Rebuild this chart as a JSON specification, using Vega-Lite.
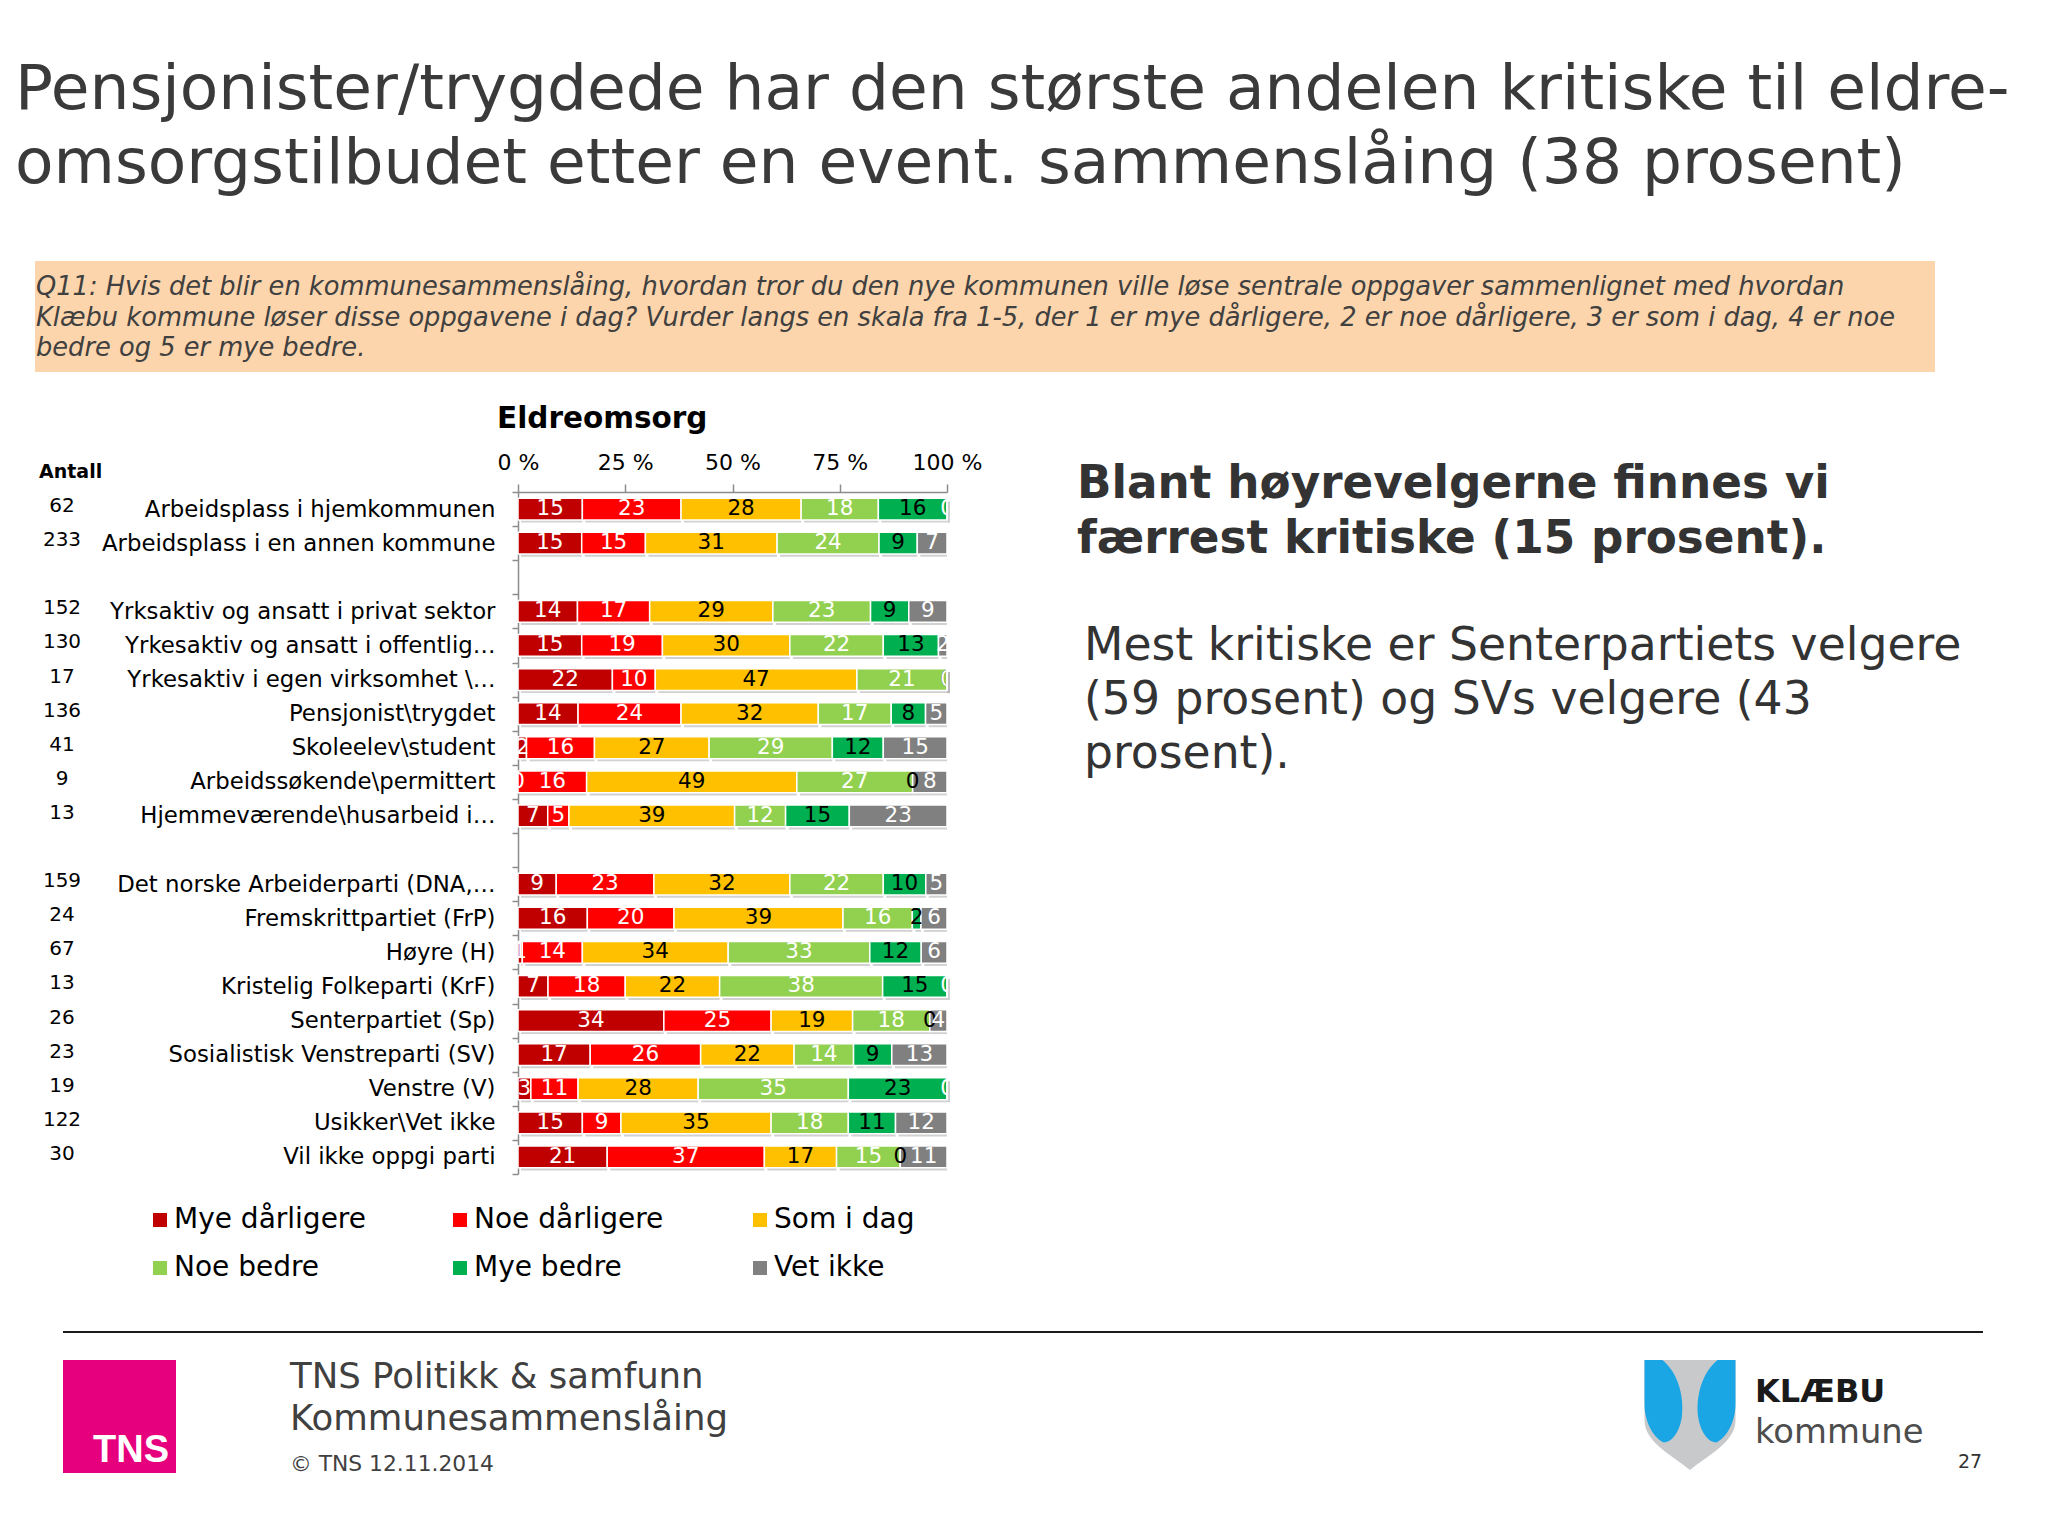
{
  "$schema": "https://vega.github.io/schema/vega-lite/v6.json",
  "width": 429,
  "height": 682,
  "autosize": {"type": "none"},
  "padding": {"left": 518, "top": 492, "right": 1101, "bottom": 362},
  "background": "white",
  "config": {"view": {"stroke": null}, "font": "DejaVu Sans"},
  "data": {"values": [
    {"g":"Arbeidsplass i hjemkommunen","n":62,"cat":"Mye dårligere","v":15},
    {"g":"Arbeidsplass i hjemkommunen","n":62,"cat":"Noe dårligere","v":23},
    {"g":"Arbeidsplass i hjemkommunen","n":62,"cat":"Som i dag","v":28},
    {"g":"Arbeidsplass i hjemkommunen","n":62,"cat":"Noe bedre","v":18},
    {"g":"Arbeidsplass i hjemkommunen","n":62,"cat":"Mye bedre","v":16},
    {"g":"Arbeidsplass i hjemkommunen","n":62,"cat":"Vet ikke","v":0},
    {"g":"Arbeidsplass i en annen kommune","n":233,"cat":"Mye dårligere","v":15},
    {"g":"Arbeidsplass i en annen kommune","n":233,"cat":"Noe dårligere","v":15},
    {"g":"Arbeidsplass i en annen kommune","n":233,"cat":"Som i dag","v":31},
    {"g":"Arbeidsplass i en annen kommune","n":233,"cat":"Noe bedre","v":24},
    {"g":"Arbeidsplass i en annen kommune","n":233,"cat":"Mye bedre","v":9},
    {"g":"Arbeidsplass i en annen kommune","n":233,"cat":"Vet ikke","v":7},
    {"g":"Yrksaktiv og ansatt i privat sektor","n":152,"cat":"Mye dårligere","v":14},
    {"g":"Yrksaktiv og ansatt i privat sektor","n":152,"cat":"Noe dårligere","v":17},
    {"g":"Yrksaktiv og ansatt i privat sektor","n":152,"cat":"Som i dag","v":29},
    {"g":"Yrksaktiv og ansatt i privat sektor","n":152,"cat":"Noe bedre","v":23},
    {"g":"Yrksaktiv og ansatt i privat sektor","n":152,"cat":"Mye bedre","v":9},
    {"g":"Yrksaktiv og ansatt i privat sektor","n":152,"cat":"Vet ikke","v":9},
    {"g":"Yrkesaktiv og ansatt i offentlig…","n":130,"cat":"Mye dårligere","v":15},
    {"g":"Yrkesaktiv og ansatt i offentlig…","n":130,"cat":"Noe dårligere","v":19},
    {"g":"Yrkesaktiv og ansatt i offentlig…","n":130,"cat":"Som i dag","v":30},
    {"g":"Yrkesaktiv og ansatt i offentlig…","n":130,"cat":"Noe bedre","v":22},
    {"g":"Yrkesaktiv og ansatt i offentlig…","n":130,"cat":"Mye bedre","v":13},
    {"g":"Yrkesaktiv og ansatt i offentlig…","n":130,"cat":"Vet ikke","v":2},
    {"g":"Yrkesaktiv i egen virksomhet \\…","n":17,"cat":"Mye dårligere","v":22},
    {"g":"Yrkesaktiv i egen virksomhet \\…","n":17,"cat":"Noe dårligere","v":10},
    {"g":"Yrkesaktiv i egen virksomhet \\…","n":17,"cat":"Som i dag","v":47},
    {"g":"Yrkesaktiv i egen virksomhet \\…","n":17,"cat":"Noe bedre","v":21},
    {"g":"Yrkesaktiv i egen virksomhet \\…","n":17,"cat":"Mye bedre","v":0},
    {"g":"Yrkesaktiv i egen virksomhet \\…","n":17,"cat":"Vet ikke","v":0},
    {"g":"Pensjonist\\trygdet","n":136,"cat":"Mye dårligere","v":14},
    {"g":"Pensjonist\\trygdet","n":136,"cat":"Noe dårligere","v":24},
    {"g":"Pensjonist\\trygdet","n":136,"cat":"Som i dag","v":32},
    {"g":"Pensjonist\\trygdet","n":136,"cat":"Noe bedre","v":17},
    {"g":"Pensjonist\\trygdet","n":136,"cat":"Mye bedre","v":8},
    {"g":"Pensjonist\\trygdet","n":136,"cat":"Vet ikke","v":5},
    {"g":"Skoleelev\\student","n":41,"cat":"Mye dårligere","v":2},
    {"g":"Skoleelev\\student","n":41,"cat":"Noe dårligere","v":16},
    {"g":"Skoleelev\\student","n":41,"cat":"Som i dag","v":27},
    {"g":"Skoleelev\\student","n":41,"cat":"Noe bedre","v":29},
    {"g":"Skoleelev\\student","n":41,"cat":"Mye bedre","v":12},
    {"g":"Skoleelev\\student","n":41,"cat":"Vet ikke","v":15},
    {"g":"Arbeidssøkende\\permittert","n":9,"cat":"Mye dårligere","v":0},
    {"g":"Arbeidssøkende\\permittert","n":9,"cat":"Noe dårligere","v":16},
    {"g":"Arbeidssøkende\\permittert","n":9,"cat":"Som i dag","v":49},
    {"g":"Arbeidssøkende\\permittert","n":9,"cat":"Noe bedre","v":27},
    {"g":"Arbeidssøkende\\permittert","n":9,"cat":"Mye bedre","v":0},
    {"g":"Arbeidssøkende\\permittert","n":9,"cat":"Vet ikke","v":8},
    {"g":"Hjemmeværende\\husarbeid i…","n":13,"cat":"Mye dårligere","v":7},
    {"g":"Hjemmeværende\\husarbeid i…","n":13,"cat":"Noe dårligere","v":5},
    {"g":"Hjemmeværende\\husarbeid i…","n":13,"cat":"Som i dag","v":39},
    {"g":"Hjemmeværende\\husarbeid i…","n":13,"cat":"Noe bedre","v":12},
    {"g":"Hjemmeværende\\husarbeid i…","n":13,"cat":"Mye bedre","v":15},
    {"g":"Hjemmeværende\\husarbeid i…","n":13,"cat":"Vet ikke","v":23},
    {"g":"Det norske Arbeiderparti (DNA,…","n":159,"cat":"Mye dårligere","v":9},
    {"g":"Det norske Arbeiderparti (DNA,…","n":159,"cat":"Noe dårligere","v":23},
    {"g":"Det norske Arbeiderparti (DNA,…","n":159,"cat":"Som i dag","v":32},
    {"g":"Det norske Arbeiderparti (DNA,…","n":159,"cat":"Noe bedre","v":22},
    {"g":"Det norske Arbeiderparti (DNA,…","n":159,"cat":"Mye bedre","v":10},
    {"g":"Det norske Arbeiderparti (DNA,…","n":159,"cat":"Vet ikke","v":5},
    {"g":"Fremskrittpartiet (FrP)","n":24,"cat":"Mye dårligere","v":16},
    {"g":"Fremskrittpartiet (FrP)","n":24,"cat":"Noe dårligere","v":20},
    {"g":"Fremskrittpartiet (FrP)","n":24,"cat":"Som i dag","v":39},
    {"g":"Fremskrittpartiet (FrP)","n":24,"cat":"Noe bedre","v":16},
    {"g":"Fremskrittpartiet (FrP)","n":24,"cat":"Mye bedre","v":2},
    {"g":"Fremskrittpartiet (FrP)","n":24,"cat":"Vet ikke","v":6},
    {"g":"Høyre (H)","n":67,"cat":"Mye dårligere","v":1},
    {"g":"Høyre (H)","n":67,"cat":"Noe dårligere","v":14},
    {"g":"Høyre (H)","n":67,"cat":"Som i dag","v":34},
    {"g":"Høyre (H)","n":67,"cat":"Noe bedre","v":33},
    {"g":"Høyre (H)","n":67,"cat":"Mye bedre","v":12},
    {"g":"Høyre (H)","n":67,"cat":"Vet ikke","v":6},
    {"g":"Kristelig Folkeparti (KrF)","n":13,"cat":"Mye dårligere","v":7},
    {"g":"Kristelig Folkeparti (KrF)","n":13,"cat":"Noe dårligere","v":18},
    {"g":"Kristelig Folkeparti (KrF)","n":13,"cat":"Som i dag","v":22},
    {"g":"Kristelig Folkeparti (KrF)","n":13,"cat":"Noe bedre","v":38},
    {"g":"Kristelig Folkeparti (KrF)","n":13,"cat":"Mye bedre","v":15},
    {"g":"Kristelig Folkeparti (KrF)","n":13,"cat":"Vet ikke","v":0},
    {"g":"Senterpartiet (Sp)","n":26,"cat":"Mye dårligere","v":34},
    {"g":"Senterpartiet (Sp)","n":26,"cat":"Noe dårligere","v":25},
    {"g":"Senterpartiet (Sp)","n":26,"cat":"Som i dag","v":19},
    {"g":"Senterpartiet (Sp)","n":26,"cat":"Noe bedre","v":18},
    {"g":"Senterpartiet (Sp)","n":26,"cat":"Mye bedre","v":0},
    {"g":"Senterpartiet (Sp)","n":26,"cat":"Vet ikke","v":4},
    {"g":"Sosialistisk Venstreparti (SV)","n":23,"cat":"Mye dårligere","v":17},
    {"g":"Sosialistisk Venstreparti (SV)","n":23,"cat":"Noe dårligere","v":26},
    {"g":"Sosialistisk Venstreparti (SV)","n":23,"cat":"Som i dag","v":22},
    {"g":"Sosialistisk Venstreparti (SV)","n":23,"cat":"Noe bedre","v":14},
    {"g":"Sosialistisk Venstreparti (SV)","n":23,"cat":"Mye bedre","v":9},
    {"g":"Sosialistisk Venstreparti (SV)","n":23,"cat":"Vet ikke","v":13},
    {"g":"Venstre (V)","n":19,"cat":"Mye dårligere","v":3},
    {"g":"Venstre (V)","n":19,"cat":"Noe dårligere","v":11},
    {"g":"Venstre (V)","n":19,"cat":"Som i dag","v":28},
    {"g":"Venstre (V)","n":19,"cat":"Noe bedre","v":35},
    {"g":"Venstre (V)","n":19,"cat":"Mye bedre","v":23},
    {"g":"Venstre (V)","n":19,"cat":"Vet ikke","v":0},
    {"g":"Usikker\\Vet ikke","n":122,"cat":"Mye dårligere","v":15},
    {"g":"Usikker\\Vet ikke","n":122,"cat":"Noe dårligere","v":9},
    {"g":"Usikker\\Vet ikke","n":122,"cat":"Som i dag","v":35},
    {"g":"Usikker\\Vet ikke","n":122,"cat":"Noe bedre","v":18},
    {"g":"Usikker\\Vet ikke","n":122,"cat":"Mye bedre","v":11},
    {"g":"Usikker\\Vet ikke","n":122,"cat":"Vet ikke","v":12},
    {"g":"Vil ikke oppgi parti","n":30,"cat":"Mye dårligere","v":21},
    {"g":"Vil ikke oppgi parti","n":30,"cat":"Noe dårligere","v":37},
    {"g":"Vil ikke oppgi parti","n":30,"cat":"Som i dag","v":17},
    {"g":"Vil ikke oppgi parti","n":30,"cat":"Noe bedre","v":15},
    {"g":"Vil ikke oppgi parti","n":30,"cat":"Mye bedre","v":0},
    {"g":"Vil ikke oppgi parti","n":30,"cat":"Vet ikke","v":11}
  ]},
  "layer": [
    {
      "transform": [
        {"calculate": "indexof(['Mye dårligere','Noe dårligere','Som i dag','Noe bedre','Mye bedre','Vet ikke'], datum.cat)", "as": "o"},
        {"stack": "v", "groupby": ["g"], "sort": [{"field": "o", "order": "ascending"}], "offset": "normalize", "as": ["v0", "v1"]},
        {"calculate": "(datum.v0 + datum.v1) / 2", "as": "mid"}
      ],
      "encoding": {
        "y": {
          "field": "g", "type": "nominal",
          "scale": {
            "domain": ["Arbeidsplass i hjemkommunen","Arbeidsplass i en annen kommune"," ","Yrksaktiv og ansatt i privat sektor","Yrkesaktiv og ansatt i offentlig…","Yrkesaktiv i egen virksomhet \\…","Pensjonist\\trygdet","Skoleelev\\student","Arbeidssøkende\\permittert","Hjemmeværende\\husarbeid i…","  ","Det norske Arbeiderparti (DNA,…","Fremskrittpartiet (FrP)","Høyre (H)","Kristelig Folkeparti (KrF)","Senterpartiet (Sp)","Sosialistisk Venstreparti (SV)","Venstre (V)","Usikker\\Vet ikke","Vil ikke oppgi parti"],
            "paddingInner": 0, "paddingOuter": 0
          },
          "axis": {
            "orient": "left", "title": null, "tickBand": "extent", "tickSize": 6,
            "labelPadding": 17, "labelFont": "DejaVu Sans", "labelFontSize": 22.8,
            "labelColor": "#000000", "labelLimit": 700, "domainColor": "#8c8c8c",
            "tickColor": "#8c8c8c", "domainWidth": 1.5, "tickWidth": 1.5, "grid": false
          }
        }
      },
      "layer": [
        {
          "mark": {"type": "bar", "height": {"band": 0.62}, "color": "#9a9a9a", "opacity": 0.45, "xOffset": 3, "yOffset": 3},
          "encoding": {
            "x": {"field": "v0", "type": "quantitative", "scale": {"domain": [0, 1], "nice": false},
              "axis": {"orient": "top", "title": null, "values": [0, 0.25, 0.5, 0.75, 1], "labelExpr": "format(datum.value*100,'d') + ' %'", "labelFont": "DejaVu Sans", "labelFontSize": 22, "labelColor": "#000000", "labelPadding": 10, "tickSize": 8, "domainColor": "#8c8c8c", "tickColor": "#8c8c8c", "domainWidth": 1.5, "tickWidth": 1.5, "grid": false, "labelFlush": false, "labelOverlap": false}},
            "x2": {"field": "v1"}
          }
        },
        {
          "mark": {"type": "bar", "height": {"band": 0.64}, "stroke": "white", "strokeWidth": 1.5},
          "encoding": {
            "x": {"field": "v0", "type": "quantitative", "scale": {"domain": [0, 1], "nice": false},
              "axis": {"orient": "top", "title": null, "values": [0, 0.25, 0.5, 0.75, 1], "labelExpr": "format(datum.value*100,'d') + ' %'", "labelFont": "DejaVu Sans", "labelFontSize": 22, "labelColor": "#000000", "labelPadding": 10, "tickSize": 8, "domainColor": "#8c8c8c", "tickColor": "#8c8c8c", "domainWidth": 1.5, "tickWidth": 1.5, "grid": false, "labelFlush": false, "labelOverlap": false}},
            "x2": {"field": "v1"},
            "color": {
              "field": "cat", "type": "nominal",
              "scale": {"domain": ["Mye dårligere","Noe dårligere","Som i dag","Noe bedre","Mye bedre","Vet ikke"], "range": ["#C00000","#FF0000","#FFC000","#92D050","#00B050","#808080"]},
              "legend": {"orient": "none", "direction": "horizontal", "legendX": -372, "legendY": 714, "columns": 3, "title": null, "symbolType": "square", "symbolSize": 196, "symbolStrokeWidth": 0, "labelFont": "DejaVu Sans", "labelFontSize": 28, "labelColor": "#000000", "labelOffset": 0, "columnPadding": 80, "rowPadding": 20, "gridAlign": "all", "padding": 0, "labelLimit": 400}
            }
          }
        },
        {
          "mark": {"type": "text", "clip": true, "font": "DejaVu Sans", "fontSize": 21.5, "baseline": "middle", "align": "center"},
          "encoding": {
            "x": {"field": "mid", "type": "quantitative", "scale": {"domain": [0, 1], "nice": false},
              "axis": {"orient": "top", "title": null, "values": [0, 0.25, 0.5, 0.75, 1], "labelExpr": "format(datum.value*100,'d') + ' %'", "labelFont": "DejaVu Sans", "labelFontSize": 22, "labelColor": "#000000", "labelPadding": 10, "tickSize": 8, "domainColor": "#8c8c8c", "tickColor": "#8c8c8c", "domainWidth": 1.5, "tickWidth": 1.5, "grid": false, "labelFlush": false, "labelOverlap": false}},
            "text": {"field": "v", "type": "quantitative"},
            "color": {"condition": {"test": "datum.cat === 'Som i dag' || datum.cat === 'Mye bedre'", "value": "#000000"}, "value": "#ffffff"}
          }
        },
        {
          "transform": [{"filter": "datum.cat === 'Mye dårligere'"}],
          "mark": {"type": "text", "x": -456, "dy": -3, "font": "DejaVu Sans", "fontSize": 20, "align": "center", "baseline": "middle", "color": "#000000"},
          "encoding": {"text": {"field": "n", "type": "quantitative"}}
        }
      ]
    },
    {
      "data": {"values": [{}]},
      "mark": {"type": "text", "x": -503, "y": -383, "align": "left", "baseline": "alphabetic", "font": "DejaVu Sans", "fontSize": 63, "lineHeight": 74, "color": "#3a3a3a",
        "text": ["Pensjonister/trygdede har den største andelen kritiske til eldre-", "omsorgstilbudet etter en event. sammenslåing (38 prosent)"]}
    },
    {
      "data": {"values": [{}]},
      "mark": {"type": "rect", "x": -483, "x2": 1417, "y": -231, "y2": -120, "color": "#FCD5AC"}
    },
    {
      "data": {"values": [{}]},
      "mark": {"type": "text", "x": -482, "y": -197, "align": "left", "baseline": "alphabetic", "font": "DejaVu Sans", "fontStyle": "italic", "fontSize": 25.7, "lineHeight": 30.5, "color": "#404040",
        "text": ["Q11: Hvis det blir en kommunesammenslåing, hvordan tror du den nye kommunen ville løse sentrale oppgaver sammenlignet med hvordan", "Klæbu kommune løser disse oppgavene i dag? Vurder langs en skala fra 1-5, der 1 er mye dårligere, 2 er noe dårligere, 3 er som i dag, 4 er noe", "bedre og 5 er mye bedre."]}
    },
    {
      "data": {"values": [{}]},
      "mark": {"type": "text", "x": -21, "y": -64, "align": "left", "baseline": "alphabetic", "font": "DejaVu Sans", "fontWeight": "bold", "fontSize": 29.5, "color": "#000000", "text": "Eldreomsorg"}
    },
    {
      "data": {"values": [{}]},
      "mark": {"type": "text", "x": -479, "y": -14, "align": "left", "baseline": "alphabetic", "font": "DejaVu Sans", "fontWeight": "bold", "fontSize": 19, "color": "#000000", "text": "Antall"}
    },
    {
      "data": {"values": [{}]},
      "mark": {"type": "text", "x": 559, "y": 6, "align": "left", "baseline": "alphabetic", "font": "DejaVu Sans", "fontWeight": "bold", "fontSize": 45.3, "lineHeight": 55, "color": "#333333",
        "text": ["Blant høyrevelgerne finnes vi", "færrest kritiske (15 prosent)."]}
    },
    {
      "data": {"values": [{}]},
      "mark": {"type": "text", "x": 566, "y": 168, "align": "left", "baseline": "alphabetic", "font": "DejaVu Sans", "fontSize": 45.7, "lineHeight": 54, "color": "#333333",
        "text": ["Mest kritiske er Senterpartiets velgere", "(59 prosent) og SVs velgere (43", "prosent)."]}
    },
    {
      "data": {"values": [{}]},
      "mark": {"type": "rect", "x": -455, "x2": 1465, "y": 839, "y2": 841, "color": "#1a1a1a"}
    },
    {
      "data": {"values": [{}]},
      "mark": {"type": "rect", "x": -455, "x2": -342, "y": 868, "y2": 981, "color": "#E6007E"}
    },
    {
      "data": {"values": [{}]},
      "mark": {"type": "text", "x": -387, "y": 970, "align": "center", "baseline": "alphabetic", "font": "Liberation Sans", "fontWeight": "bold", "fontSize": 38, "color": "#ffffff", "text": "TNS"}
    },
    {
      "data": {"values": [{}]},
      "mark": {"type": "text", "x": -228, "y": 896, "align": "left", "baseline": "alphabetic", "font": "DejaVu Sans", "fontSize": 35.5, "lineHeight": 42, "color": "#404040",
        "text": ["TNS Politikk & samfunn", "Kommunesammenslåing"]}
    },
    {
      "data": {"values": [{}]},
      "mark": {"type": "text", "x": -228, "y": 979, "align": "left", "baseline": "alphabetic", "font": "DejaVu Sans", "fontSize": 21.8, "color": "#404040", "text": "© TNS 12.11.2014"}
    },
    {
      "data": {"values": [{}]},
      "mark": {"type": "point", "x": 1172, "y": 923, "size": 12100, "filled": true, "opacity": 1, "color": "#C8C9CB", "strokeWidth": 0,
        "shape": "M-0.827,-1 L0.827,-1 L0.827,0.1 C0.827,0.5 0.3,0.75 0,1 C-0.3,0.75 -0.827,0.5 -0.827,0.1 Z"}
    },
    {
      "data": {"values": [{}]},
      "mark": {"type": "point", "x": 1172, "y": 923, "size": 12100, "filled": true, "opacity": 1, "color": "#1AA6E4", "strokeWidth": 0,
        "shape": "M-0.827,-1 L-0.5,-1 C-0.2,-0.75 -0.1,-0.3 -0.15,0.05 C-0.2,0.35 -0.35,0.5 -0.48,0.5 C-0.65,0.42 -0.827,0.15 -0.827,-0.2 Z M0.827,-1 L0.5,-1 C0.2,-0.75 0.1,-0.3 0.15,0.05 C0.2,0.35 0.35,0.5 0.48,0.5 C0.65,0.42 0.827,0.15 0.827,-0.2 Z"}
    },
    {
      "data": {"values": [{}]},
      "mark": {"type": "text", "x": 1237, "y": 910, "align": "left", "baseline": "alphabetic", "font": "DejaVu Sans", "fontWeight": "bold", "fontSize": 32, "color": "#1a1a1a", "text": "KLÆBU"}
    },
    {
      "data": {"values": [{}]},
      "mark": {"type": "text", "x": 1237, "y": 951, "align": "left", "baseline": "alphabetic", "font": "DejaVu Sans", "fontSize": 33.8, "color": "#4d4d4d", "text": "kommune"}
    },
    {
      "data": {"values": [{}]},
      "mark": {"type": "text", "x": 1440, "y": 976, "align": "left", "baseline": "alphabetic", "font": "DejaVu Sans", "fontSize": 19, "color": "#333333", "text": "27"}
    }
  ]
}
